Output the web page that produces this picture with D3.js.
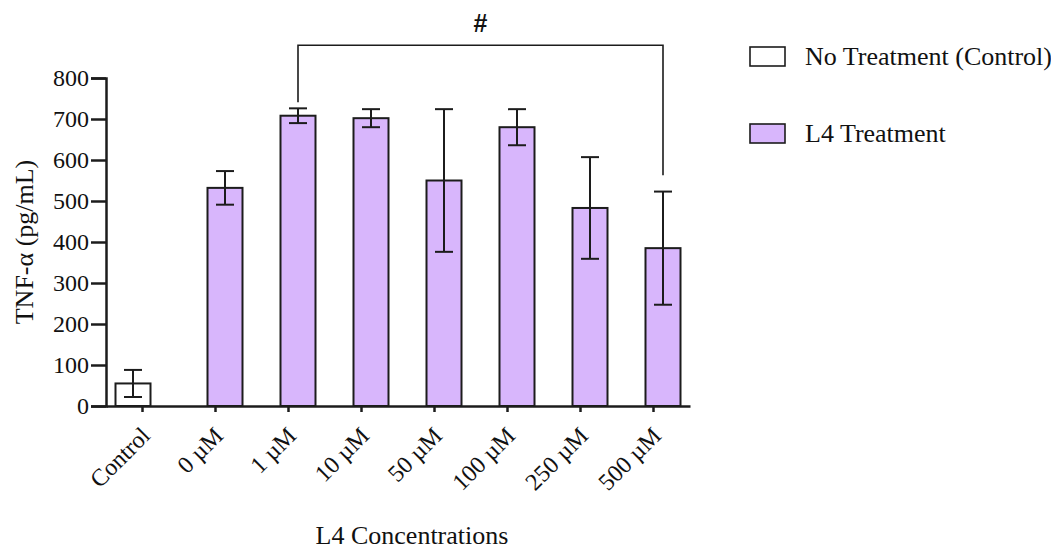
<!DOCTYPE html>
<html>
<head>
<meta charset="utf-8">
<script src="https://cdn.jsdelivr.net/npm/d3@7"></script>
<style>
  body { margin: 0; background: #fff; }
  svg text { font-family: "Liberation Serif", "Times New Roman", serif; fill: #111; }
</style>
</head>
<body>
<div id="vis"></div>
<script>
const groups = ['Control', '0 µM', '1 µM', '10 µM', '50 µM', '100 µM', '250 µM', '500 µM'];
const seriesOf = ['control', 'l4', 'l4', 'l4', 'l4', 'l4', 'l4', 'l4'];
const means = [55, 532, 708, 702, 550, 680, 483, 385];
const sds = [33, 41, 18, 22, 174, 44, 124, 138];
const yTicks = [0, 100, 200, 300, 400, 500, 600, 700, 800];
const legendLabels = ['No Treatment (Control)', 'L4 Treatment'];
// significance bracket: from 1 µM to 500 µM
const bracket = { from: '1 µM', to: '500 µM', level: 880, leftEnd: 741, rightEnd: 563, label: '#' };

const width = 1051;
const height = 552;
const fills = { control: '#ffffff', l4: '#d8b6fc' };
const ink = '#1c1c1c';

const svg = d3.select('#vis')
  .append('svg')
  .attr('width', width)
  .attr('height', height);

// scales
const x = d3.scaleBand()
  .domain(groups)
  .range([106, 690]);
const y = d3.scaleLinear()
  .domain([0, 800])
  .range([406, 78]);

const barW = 35;
const shift = { control: -9.5, l4: 9.5 };
const cx = function(i) { return x(groups[i]) + x.bandwidth() / 2 + shift[seriesOf[i]]; };

// bars
svg.append('g')
  .selectAll('rect')
  .data(means)
  .join('rect')
  .attr('x', function(d, i) { return cx(i) - barW / 2; })
  .attr('y', function(d) { return y(d); })
  .attr('width', barW)
  .attr('height', function(d) { return y(0) - y(d); })
  .attr('fill', function(d, i) { return fills[seriesOf[i]]; })
  .attr('stroke', ink)
  .attr('stroke-width', 2);

// error bars
const err = svg.append('g')
  .attr('stroke', ink)
  .attr('stroke-width', 2)
  .attr('fill', 'none');
means.forEach(function(m, i) {
  const c = cx(i);
  const hi = y(m + sds[i]);
  const lo = y(m - sds[i]);
  err.append('line').attr('x1', c).attr('x2', c).attr('y1', hi).attr('y2', lo);
  err.append('line').attr('x1', c - 9).attr('x2', c + 9).attr('y1', hi).attr('y2', hi);
  err.append('line').attr('x1', c - 9).attr('x2', c + 9).attr('y1', lo).attr('y2', lo);
});

// y axis
const yAxis = svg.append('g')
  .attr('transform', 'translate(106,0)')
  .call(d3.axisLeft(y).tickValues(yTicks).tickSize(15).tickPadding(2));
yAxis.attr('font-family', null).attr('font-size', null);
yAxis.select('.domain').attr('stroke', ink).attr('stroke-width', 2.5);
yAxis.selectAll('.tick line').attr('stroke', ink).attr('stroke-width', 2.5);
yAxis.selectAll('.tick text')
  .style('font-size', '24px')
  .attr('fill', '#111');

// x axis
const xAxis = svg.append('g')
  .attr('transform', 'translate(0,406)')
  .call(d3.axisBottom(x).tickSizeOuter(0).tickSizeInner(6).tickPadding(4));
xAxis.attr('font-family', null).attr('font-size', null);
xAxis.select('.domain').attr('stroke', ink).attr('stroke-width', 2.5);
xAxis.selectAll('.tick line').attr('stroke', ink).attr('stroke-width', 2.5);
xAxis.selectAll('.tick text')
  .style('font-size', '24px')
  .attr('fill', '#111')
  .attr('text-anchor', 'end')
  .attr('dy', null)
  .attr('transform', 'translate(2,24) rotate(-45)');

// axis titles
svg.append('text')
  .attr('transform', 'translate(33,242) rotate(-90)')
  .attr('text-anchor', 'middle')
  .style('font-size', '26px')
  .text('TNF-α (pg/mL)');

svg.append('text')
  .attr('x', 412)
  .attr('y', 544)
  .attr('text-anchor', 'middle')
  .style('font-size', '26px')
  .text('L4 Concentrations');

// bracket
const bx1 = cx(groups.indexOf(bracket.from));
const bx2 = cx(groups.indexOf(bracket.to));
svg.append('path')
  .attr('d', 'M' + bx1 + ',' + y(bracket.leftEnd) +
    'V' + y(bracket.level) + 'H' + bx2 + 'V' + y(bracket.rightEnd))
  .attr('fill', 'none')
  .attr('stroke', ink)
  .attr('stroke-width', 1.6);
svg.append('text')
  .attr('x', (bx1 + bx2) / 2)
  .attr('y', y(bracket.level) - 13)
  .attr('text-anchor', 'middle')
  .style('font-family', 'Liberation Sans, Arial, sans-serif')
  .style('font-weight', 'bold')
  .style('font-size', '25px')
  .text(bracket.label);

// legend
const legend = svg.append('g')
  .attr('transform', 'translate(750,0)');
['control', 'l4'].forEach(function(s, i) {
  const top = 47 + i * 77;
  legend.append('rect')
    .attr('x', 0)
    .attr('y', top)
    .attr('width', 35)
    .attr('height', 19)
    .attr('fill', fills[s])
    .attr('stroke', ink)
    .attr('stroke-width', 1.6);
  legend.append('text')
    .attr('x', 55)
    .attr('y', top + 18)
    .style('font-size', '26px')
    .text(legendLabels[i]);
});
</script>
</body>
</html>
